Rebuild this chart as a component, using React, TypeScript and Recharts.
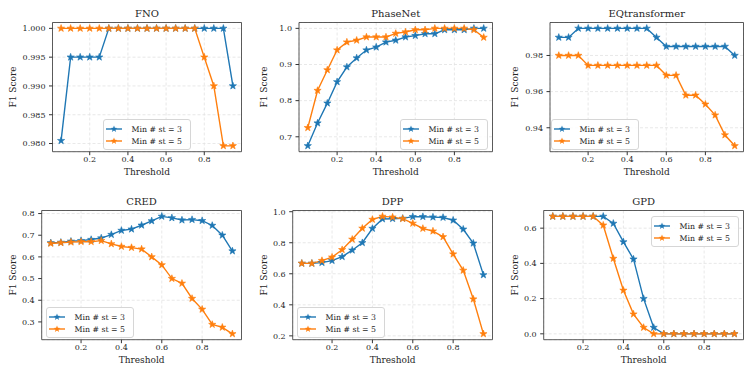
import React from "react";
import { LineChart, Line, XAxis, YAxis, CartesianGrid, ReferenceArea } from "recharts";

// thresholds on the x axis (0.05 .. 0.95)
const thresholds = [0.05, 0.1, 0.15, 0.2, 0.25, 0.3, 0.35, 0.4, 0.45, 0.5, 0.55, 0.6, 0.65, 0.7, 0.75, 0.8, 0.85, 0.9, 0.95];
const xTicks = [0.2, 0.4, 0.6, 0.8];
const seriesNames = ["Min # st = 3", "Min # st = 5"];

const fnoMin3 = [0.9805, 0.995, 0.995, 0.995, 0.995, 1, 1, 1, 1, 1, 1, 1, 1, 1, 1, 1, 1, 1, 0.99];
const fnoMin5 = [1, 1, 1, 1, 1, 1, 1, 1, 1, 1, 1, 1, 1, 1, 1, 0.995, 0.99, 0.9796, 0.9796];
const fnoTicks = [0.98, 0.985, 0.99, 0.995, 1.0];

const phaseNetMin3 = [0.675, 0.738, 0.793, 0.852, 0.893, 0.918, 0.94, 0.948, 0.962, 0.967, 0.976, 0.98, 0.985, 0.985, 0.996, 0.996, 0.996, 1.0, 1.0];
const phaseNetMin5 = [0.725, 0.828, 0.885, 0.94, 0.962, 0.967, 0.976, 0.976, 0.976, 0.986, 0.99, 0.996, 0.996, 1.0, 1.0, 1.0, 1.0, 0.996, 0.975];
const phaseNetTicks = [0.7, 0.8, 0.9, 1.0];

const eqtMin3 = [0.99, 0.99, 0.995, 0.995, 0.995, 0.995, 0.995, 0.995, 0.995, 0.995, 0.99, 0.985, 0.985, 0.985, 0.985, 0.985, 0.985, 0.985, 0.98];
const eqtMin5 = [0.98, 0.98, 0.98, 0.9745, 0.9745, 0.9745, 0.9745, 0.9745, 0.9745, 0.9745, 0.9745, 0.969, 0.969, 0.958, 0.958, 0.953, 0.947, 0.936, 0.93];
const eqtTicks = [0.94, 0.96, 0.98];

const credMin3 = [0.665, 0.667, 0.672, 0.675, 0.68, 0.687, 0.703, 0.722, 0.728, 0.746, 0.766, 0.787, 0.78, 0.77, 0.772, 0.767, 0.745, 0.7, 0.627];
const credMin5 = [0.662, 0.665, 0.668, 0.67, 0.67, 0.675, 0.66, 0.648, 0.643, 0.636, 0.6, 0.563, 0.5, 0.478, 0.408, 0.358, 0.288, 0.275, 0.245];
const credTicks = [0.3, 0.4, 0.5, 0.6, 0.7, 0.8];

const dppMin3 = [0.667, 0.667, 0.672, 0.685, 0.71, 0.752, 0.8, 0.892, 0.953, 0.955, 0.957, 0.968, 0.968, 0.965, 0.963, 0.945, 0.887, 0.797, 0.593];
const dppMin5 = [0.667, 0.667, 0.685, 0.707, 0.755, 0.822, 0.893, 0.95, 0.97, 0.965, 0.955, 0.925, 0.892, 0.875, 0.838, 0.727, 0.622, 0.437, 0.213];
const dppTicks = [0.2, 0.4, 0.6, 0.8, 1.0];

const gpdMin3 = [0.667, 0.667, 0.667, 0.667, 0.667, 0.667, 0.627, 0.522, 0.424, 0.2, 0.036, 0, 0, 0, 0, 0, 0, 0, 0];
const gpdMin5 = [0.667, 0.667, 0.667, 0.667, 0.667, 0.617, 0.428, 0.247, 0.112, 0.036, 0, 0, 0, 0, 0, 0, 0, 0, 0];
const gpdTicks = [0.0, 0.2, 0.4, 0.6];

const BLUE = "#1f77b4";
const ORANGE = "#ff7f0e";
const FONT = "DejaVu Serif";
const TEXT = "#262626";

// matplotlib style 5% autoscale margin
const pad = (vals: number[]): [number, number] => {
  const lo = Math.min(...vals);
  const hi = Math.max(...vals);
  const m = (hi - lo) * 0.05;
  return [lo - m, hi + m];
};

const starPoints = (cx: number, cy: number, r: number) => {
  const pts: string[] = [];
  for (let i = 0; i < 10; i++) {
    const rad = i % 2 === 0 ? r : r * 0.4;
    const a = -Math.PI / 2 + (i * Math.PI) / 5;
    pts.push(`${cx + rad * Math.cos(a)},${cy + rad * Math.sin(a)}`);
  }
  return pts.join(" ");
};

const StarDot = (props: any) => {
  const { cx, cy, color } = props;
  if (cx == null || cy == null) return null;
  return <polygon points={starPoints(cx, cy, 3.8)} fill={color} stroke={color} strokeWidth={0.6} />;
};

type PanelProps = {
  title: string;
  x: number;
  y: number;
  plotLeft: number;
  min3: number[];
  min5: number[];
  yTicks: number[];
  digits: number;
  legend: { left: number; top: number };
};

const Panel = ({ title, x, y, plotLeft, min3, min5, yTicks, digits, legend }: PanelProps) => {
  const rows = thresholds.map((t, i) => ({ t, a: min3[i], b: min5[i] }));
  const xd = pad(thresholds);
  const yd = pad([...min3, ...min5]);
  const W = 251;
  const H = 188;
  const top = 22.5;
  const right = 9.5;
  const xAxisH = 36.3;
  const plotBottom = H - xAxisH;
  const tickStyle = { fontSize: 8, fill: TEXT, fontFamily: FONT };
  return (
    <div style={{ position: "absolute", left: x, top: y, width: W, height: H }}>
      <LineChart width={W} height={H} data={rows} margin={{ top, right, left: 0, bottom: 0 }}>
        <CartesianGrid stroke="#e2e2e2" strokeDasharray="3 2" strokeWidth={0.8} />
        <XAxis
          type="number"
          dataKey="t"
          domain={xd}
          ticks={xTicks}
          allowDataOverflow
          height={xAxisH}
          axisLine={false}
          tickLine={{ stroke: "#333" }}
          tickSize={3.5}
          tickMargin={1.5}
          tick={tickStyle}
          tickFormatter={(v: number) => v.toFixed(1)}
        />
        <YAxis
          type="number"
          domain={yd}
          ticks={yTicks}
          allowDataOverflow
          width={plotLeft}
          axisLine={false}
          tickLine={{ stroke: "#333" }}
          tickSize={3.5}
          tickMargin={3.5}
          tick={tickStyle}
          tickFormatter={(v: number) => v.toFixed(digits)}
        />
        <Line
          dataKey="a"
          stroke={BLUE}
          strokeWidth={1.4}
          isAnimationActive={false}
          dot={(p: any) => <StarDot key={`a${p.index}`} {...p} color={BLUE} />}
        />
        <Line
          dataKey="b"
          stroke={ORANGE}
          strokeWidth={1.4}
          isAnimationActive={false}
          dot={(p: any) => <StarDot key={`b${p.index}`} {...p} color={ORANGE} />}
        />
        <ReferenceArea x1={xd[0]} x2={xd[1]} y1={yd[0]} y2={yd[1]} fill="none" fillOpacity={0} stroke="#333" strokeWidth={0.8} />
      </LineChart>
      <div
        style={{
          position: "absolute",
          left: plotLeft,
          width: W - right - plotLeft,
          top: 8,
          textAlign: "center",
          fontSize: 10,
          color: TEXT,
          fontFamily: FONT,
          lineHeight: "12px",
        }}
      >
        {title}
      </div>
      <div
        style={{
          position: "absolute",
          left: plotLeft,
          width: W - right - plotLeft,
          top: 167,
          textAlign: "center",
          fontSize: 9,
          color: TEXT,
          fontFamily: FONT,
          lineHeight: "10px",
        }}
      >
        Threshold
      </div>
      <div
        style={{
          position: "absolute",
          left: 13 - 40,
          top: (top + plotBottom) / 2 - 5,
          width: 80,
          textAlign: "center",
          transform: "rotate(-90deg)",
          fontSize: 9,
          color: TEXT,
          fontFamily: FONT,
          lineHeight: "10px",
        }}
      >
        F1 Score
      </div>
      <div
        style={{
          position: "absolute",
          left: legend.left,
          top: legend.top,
          width: 88,
          height: 31,
          boxSizing: "border-box",
          border: "1px solid #d6d6d6",
          borderRadius: 3,
          background: "rgba(255,255,255,0.85)",
          fontFamily: FONT,
          fontSize: 7.8,
          color: TEXT,
        }}
      >
        {seriesNames.map((name, i) => (
          <div key={name} style={{ position: "absolute", left: 1.5, top: 4 + i * 12, height: 10, display: "flex", alignItems: "center" }}>
            <svg width={16} height={10}>
              <line x1={0} y1={5} x2={16} y2={5} stroke={i === 0 ? BLUE : ORANGE} strokeWidth={1.4} />
              <polygon points={starPoints(8, 5, 3.6)} fill={i === 0 ? BLUE : ORANGE} />
            </svg>
            <span style={{ marginLeft: 10, whiteSpace: "nowrap" }}>{name}</span>
          </div>
        ))}
      </div>
    </div>
  );
};

const App: React.FC = () => {
  return (
    <div style={{ position: "absolute", left: 0, top: 0, width: 753, height: 376, background: "#fff" }}>
      <Panel title="FNO" x={0} y={0} plotLeft={52.5} min3={fnoMin3} min5={fnoMin5} yTicks={fnoTicks} digits={3} legend={{ left: 103, top: 119 }} />
      <Panel title="PhaseNet" x={251} y={0} plotLeft={48} min3={phaseNetMin3} min5={phaseNetMin5} yTicks={phaseNetTicks} digits={1} legend={{ left: 149, top: 119 }} />
      <Panel title="EQtransformer" x={502} y={0} plotLeft={48} min3={eqtMin3} min5={eqtMin5} yTicks={eqtTicks} digits={2} legend={{ left: 49, top: 119 }} />
      <Panel title="CRED" x={0} y={188} plotLeft={41.7} min3={credMin3} min5={credMin5} yTicks={credTicks} digits={1} legend={{ left: 46, top: 119 }} />
      <Panel title="DPP" x={251} y={188} plotLeft={41.7} min3={dppMin3} min5={dppMin5} yTicks={dppTicks} digits={1} legend={{ left: 46, top: 119 }} />
      <Panel title="GPD" x={502} y={188} plotLeft={41.7} min3={gpdMin3} min5={gpdMin5} yTicks={gpdTicks} digits={1} legend={{ left: 149, top: 28 }} />
    </div>
  );
};

export default App;
